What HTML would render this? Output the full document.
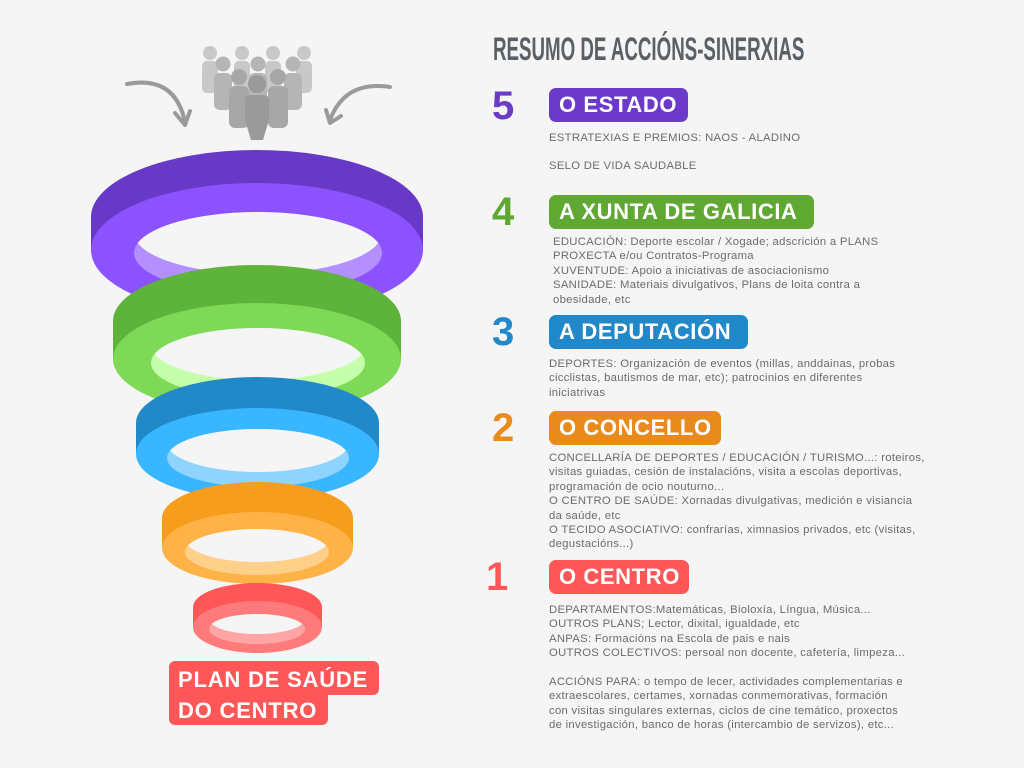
<!DOCTYPE html>
<html><head><meta charset="utf-8"><style>
html,body{margin:0;padding:0;background:#f5f5f5;}
body{width:1024px;height:768px;position:relative;overflow:hidden;font-family:"Liberation Sans",sans-serif;}
.t{position:absolute;white-space:nowrap;}
.title{left:493px;top:31px;font-size:32px;font-weight:bold;color:#5a6065;transform:scaleX(0.585);transform-origin:left top;letter-spacing:0px;}
.num{position:absolute;font-size:40px;font-weight:bold;line-height:40px;}
.badge{position:absolute;left:549px;height:34px;border-radius:7px;color:#fff;font-weight:bold;font-size:22px;line-height:34px;padding-left:10px;box-sizing:border-box;letter-spacing:0.6px;}
.txt{position:absolute;font-size:11.3px;color:#6b6b6b;line-height:14.4px;white-space:nowrap;letter-spacing:0.3px;}
</style></head><body>
<svg width="1024" height="768" style="position:absolute;left:0;top:0">
<defs>
<clipPath id="h1"><ellipse cx="258" cy="253" rx="124" ry="41"/></clipPath>
<clipPath id="h2"><ellipse cx="258" cy="363" rx="107" ry="35"/></clipPath>
<clipPath id="h3"><ellipse cx="258" cy="458" rx="91" ry="29"/></clipPath>
<clipPath id="h4"><ellipse cx="257" cy="552" rx="72" ry="23"/></clipPath>
<clipPath id="h5"><ellipse cx="257" cy="629" rx="48" ry="15"/></clipPath>
</defs>
<ellipse cx="257" cy="217" rx="166" ry="67" fill="#6739c6"/>
<rect x="91" y="217" width="332" height="33" fill="#6739c6"/>
<ellipse cx="257" cy="250" rx="166" ry="67" fill="#8c52ff"/>
<ellipse cx="258" cy="253" rx="124" ry="41" fill="#b48fff"/>
<ellipse cx="258" cy="233" rx="124" ry="41" fill="#f5f5f5" clip-path="url(#h1)"/>
<ellipse cx="257" cy="321" rx="144" ry="56" fill="#5eb33a"/>
<rect x="113" y="321" width="288" height="38" fill="#5eb33a"/>
<ellipse cx="257" cy="359" rx="144" ry="56" fill="#7ed957"/>
<ellipse cx="258" cy="363" rx="107" ry="35" fill="#c5ffab"/>
<ellipse cx="258" cy="345" rx="107" ry="35" fill="#f5f5f5" clip-path="url(#h2)"/>
<ellipse cx="257.5" cy="423" rx="121.5" ry="46" fill="#2189c8"/>
<rect x="136" y="423" width="243" height="31" fill="#2189c8"/>
<ellipse cx="257.5" cy="454" rx="121.5" ry="46" fill="#38b6ff"/>
<ellipse cx="258" cy="458" rx="91" ry="29" fill="#8fd4ff"/>
<ellipse cx="258" cy="443" rx="91" ry="29" fill="#f5f5f5" clip-path="url(#h3)"/>
<ellipse cx="257.5" cy="518" rx="95.5" ry="36" fill="#f79d1d"/>
<rect x="162" y="518" width="191" height="30" fill="#f79d1d"/>
<ellipse cx="257.5" cy="548" rx="95.5" ry="36" fill="#ffb347"/>
<ellipse cx="257" cy="552" rx="72" ry="23" fill="#ffd08a"/>
<ellipse cx="257" cy="539" rx="72" ry="23" fill="#f5f5f5" clip-path="url(#h4)"/>
<ellipse cx="257.5" cy="607" rx="64.5" ry="24" fill="#ff5757"/>
<rect x="193" y="607" width="129" height="20" fill="#ff5757"/>
<ellipse cx="257.5" cy="627" rx="64.5" ry="26" fill="#ff7b7b"/>
<ellipse cx="257" cy="629" rx="48" ry="15" fill="#ffa5a5"/>
<ellipse cx="257" cy="619" rx="48" ry="15" fill="#f5f5f5" clip-path="url(#h5)"/>
<path d="M127 84 Q175 75 185 122" stroke="#9a9a9a" stroke-width="4" fill="none" stroke-linecap="round"/>
<path d="M175 113 L185 125 L190 111" stroke="#9a9a9a" stroke-width="4" fill="none" stroke-linecap="round" stroke-linejoin="round"/>
<path d="M390 87 Q345 80 330 120" stroke="#9a9a9a" stroke-width="4" fill="none" stroke-linecap="round"/>
<path d="M326 110 L330 123 L341 116" stroke="#9a9a9a" stroke-width="4" fill="none" stroke-linecap="round" stroke-linejoin="round"/>
<g fill="#c8c8c8">
<circle cx="210" cy="53" r="7"/><rect x="202" y="61" width="16" height="32" rx="5"/>
<circle cx="242" cy="53" r="7"/><rect x="234" y="61" width="16" height="32" rx="5"/>
<circle cx="273" cy="53" r="7"/><rect x="265" y="61" width="16" height="32" rx="5"/>
<circle cx="304" cy="53" r="7"/><rect x="296" y="61" width="16" height="32" rx="5"/>
</g>
<g fill="#b5b5b5">
<circle cx="223" cy="64" r="7.5"/><rect x="214" y="73" width="18" height="37" rx="6"/>
<circle cx="258" cy="64" r="7.5"/><rect x="249" y="73" width="18" height="37" rx="6"/>
<circle cx="293" cy="64" r="7.5"/><rect x="284" y="73" width="18" height="37" rx="6"/>
</g>
<g fill="#a7a7a7">
<circle cx="239" cy="77" r="8"/><rect x="229" y="86" width="20" height="42" rx="6"/>
<circle cx="278" cy="77" r="8"/><rect x="268" y="86" width="20" height="42" rx="6"/>
</g>
<g fill="#9a9a9a">
<circle cx="257" cy="84" r="9"/><path d="M245 100 Q245 95 251 95 L263 95 Q269 95 269 100 L269 120 L263 140 L251 140 L245 120 Z"/>
</g>
</svg>

<div class="t title">RESUMO DE ACCIÓNS-SINERXIAS</div>

<div class="num" style="left:492px;top:86px;color:#6a3cc6">5</div>
<div class="badge" style="top:88px;width:139px;background:#6b3ac8">O ESTADO</div>
<div class="txt" style="left:549px;top:131px">ESTRATEXIAS E PREMIOS: NAOS - ALADINO</div>
<div class="txt" style="left:549px;top:159px">SELO DE VIDA SAUDABLE</div>

<div class="num" style="left:492px;top:192px;color:#5ea832">4</div>
<div class="badge" style="top:195px;width:265px;background:#5fa832">A XUNTA DE GALICIA</div>
<div class="txt" style="left:553px;top:235px">EDUCACIÓN: Deporte escolar / Xogade; adscrición a PLANS<br>PROXECTA e/ou Contratos-Programa<br>XUVENTUDE: Apoio a iniciativas de asociacionismo<br>SANIDADE: Materiais divulgativos, Plans de loita contra a<br>obesidade, etc</div>

<div class="num" style="left:492px;top:312px;color:#2189c9">3</div>
<div class="badge" style="top:315px;width:199px;background:#2189c9">A DEPUTACIÓN</div>
<div class="txt" style="left:549px;top:357px">DEPORTES: Organización de eventos (millas, anddainas, probas<br>cicclistas, bautismos de mar, etc); patrocinios en diferentes<br>iniciatrivas</div>

<div class="num" style="left:492px;top:408px;color:#e98b1c">2</div>
<div class="badge" style="top:411px;width:172px;background:#e98b1c">O CONCELLO</div>
<div class="txt" style="left:549px;top:451px">CONCELLARÍA DE DEPORTES / EDUCACIÓN / TURISMO...: roteiros,<br>visitas guiadas, cesión de instalacións, visita a escolas deportivas,<br>programación de ocio nouturno...<br>O CENTRO DE SAÚDE: Xornadas divulgativas, medición e visiancia<br>da saúde, etc<br>O TECIDO ASOCIATIVO: confrarías, ximnasios privados, etc (visitas,<br>degustacións...)</div>

<div class="num" style="left:486px;top:557px;color:#ff5757">1</div>
<div class="badge" style="top:560px;width:140px;background:#ff5757">O CENTRO</div>
<div class="txt" style="left:549px;top:603px">DEPARTAMENTOS:Matemáticas, Bioloxía, Língua, Música...<br>OUTROS PLANS; Lector, dixital, igualdade, etc<br>ANPAS: Formacións na Escola de pais e nais<br>OUTROS COLECTIVOS: persoal non docente, cafetería, limpeza...<br><br>ACCIÓNS PARA: o tempo de lecer, actividades complementarias e<br>extraescolares, certames, xornadas conmemorativas, formación<br>con visitas singulares externas, ciclos de cine temático, proxectos<br>de investigación, banco de horas (intercambio de servizos), etc...</div>

<div style="position:absolute;left:169px;top:661px;width:210px;height:34px;background:#ff5757;border-radius:6px 6px 6px 0"></div>
<div style="position:absolute;left:169px;top:690px;width:159px;height:35px;background:#ff5757;border-radius:0 0 6px 6px"></div>
<div class="t" style="left:178px;top:664px;color:#fff;font-weight:bold;font-size:22px;line-height:31px;letter-spacing:0.8px">PLAN DE SAÚDE<br>DO CENTRO</div>
</body></html>
